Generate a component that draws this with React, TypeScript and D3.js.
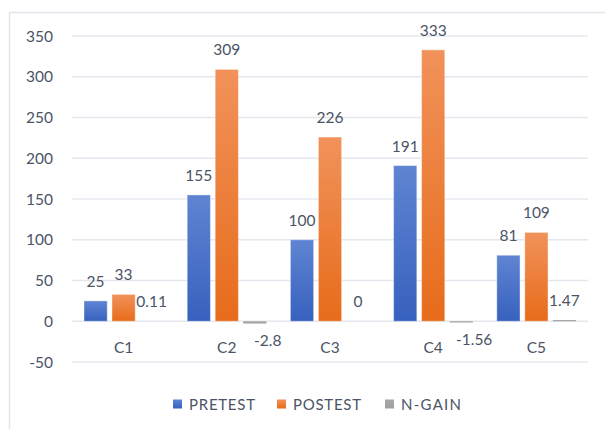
import React from "react";
import * as d3 from "d3";

const categories = ["C1", "C2", "C3", "C4", "C5"];
const series = ["PRETEST", "POSTEST", "N-GAIN"];
const pretest = [25, 155, 100, 191, 81];
const posttest = [33, 309, 226, 333, 109];
const ngain = [0.11, -2.8, 0, -1.56, 1.47];
const ngainLabels = ["0.11", "-2.8", "0", "-1.56", "1.47"];
const yTicks = [-50, 0, 50, 100, 150, 200, 250, 300, 350];

const W = 605;
const H = 429;
const margin = { left: 72, right: 17, top: 36, bottom: 67 };
const textColor = "#4b5466";
const font = "Lato, 'Open Sans', sans-serif";

const gradients = [
  { id: "gPre", top: "#5f84d2", bottom: "#3761be" },
  { id: "gPost", top: "#f1925a", bottom: "#e76c1b" },
  { id: "gGain", top: "#a8a8a8", bottom: "#a0a0a0" },
];

const App = () => {
  const x = d3
    .scaleBand()
    .domain(categories)
    .range([margin.left, W - margin.right]);

  const inner = d3
    .scaleBand()
    .domain(series)
    .range([12, x.bandwidth() - 12])
    .paddingInner(0.17);

  const y = d3
    .scaleLinear()
    .domain([-50, 350])
    .range([H - margin.bottom, margin.top]);

  const table = categories.map((c, i) => ({
    cat: c,
    values: [
      { key: "PRETEST", v: pretest[i], label: String(pretest[i]), g: "gPre" },
      { key: "POSTEST", v: posttest[i], label: String(posttest[i]), g: "gPost" },
      { key: "N-GAIN", v: ngain[i], label: ngainLabels[i], g: "gGain" },
    ],
  }));

  // legend layout
  const legend = [
    { key: "PRETEST", x: 173, len: 66, g: "gPre" },
    { key: "POSTEST", x: 277, len: 68, g: "gPost" },
    { key: "N-GAIN", x: 385, len: 60, g: "gGain" },
  ];

  return (
    <svg
      width={W}
      height={H}
      style={{ position: "absolute", left: 0, top: 0, background: "#fff" }}
      fontFamily={font}
    >
      <defs>
        {gradients.map((g) => (
          <linearGradient key={g.id} id={g.id} x1="0" y1="0" x2="0" y2="1">
            <stop offset="0%" stopColor={g.top} />
            <stop offset="100%" stopColor={g.bottom} />
          </linearGradient>
        ))}
      </defs>

      <rect
        x={9.5}
        y={12.5}
        width={W + 20}
        height={H + 20}
        fill="#fff"
        stroke="#e2e6ec"
        strokeWidth={1.5}
      />

      {yTicks.map((t) => (
        <g key={t}>
          <line
            x1={margin.left}
            x2={W - margin.right}
            y1={y(t)}
            y2={y(t)}
            stroke="#e4e8ee"
            strokeWidth={1.5}
          />
          <text
            x={53}
            y={y(t)}
            dy="0.36em"
            textAnchor="end"
            fontSize={15.5}
            fill={textColor}
          >
            {t}
          </text>
        </g>
      ))}

      {table.map((row) => (
        <g key={row.cat} transform={`translate(${x(row.cat)},0)`}>
          {row.values.map((d) => {
            const bx = inner(d.key)!;
            const h = Math.abs(y(d.v) - y(0));
            const big = h > 4;
            return (
              <g key={d.key}>
                {h > 0.5 && (
                  <rect
                    x={bx}
                    y={Math.min(y(0), y(d.v))}
                    width={inner.bandwidth()}
                    height={h}
                    fill={`url(#${d.g})`}
                    stroke={big ? "#ffffff" : "none"}
                    strokeOpacity={0.4}
                    strokeWidth={1}
                  />
                )}
                <text
                  x={bx + inner.bandwidth() / 2 + (d.v < 0 ? 13 : 0)}
                  y={d.v < 0 ? y(d.v) + 22 : y(d.v) - 14}
                  textAnchor="middle"
                  fontSize={15.5}
                  fill={textColor}
                >
                  {d.label}
                </text>
              </g>
            );
          })}
          <text
            x={x.bandwidth() / 2}
            y={353}
            textAnchor="middle"
            fontSize={15.5}
            fill={textColor}
          >
            {row.cat}
          </text>
        </g>
      ))}

      {legend.map((l) => (
        <g key={l.key}>
          <rect x={l.x} y={399.5} width={9} height={9} fill={`url(#${l.g})`} />
          <text
            x={l.x + 16}
            y={409.5}
            fontSize={15}
            fill={textColor}
            textLength={l.len}
            lengthAdjust="spacing"
          >
            {l.key}
          </text>
        </g>
      ))}
    </svg>
  );
};

export default App;
